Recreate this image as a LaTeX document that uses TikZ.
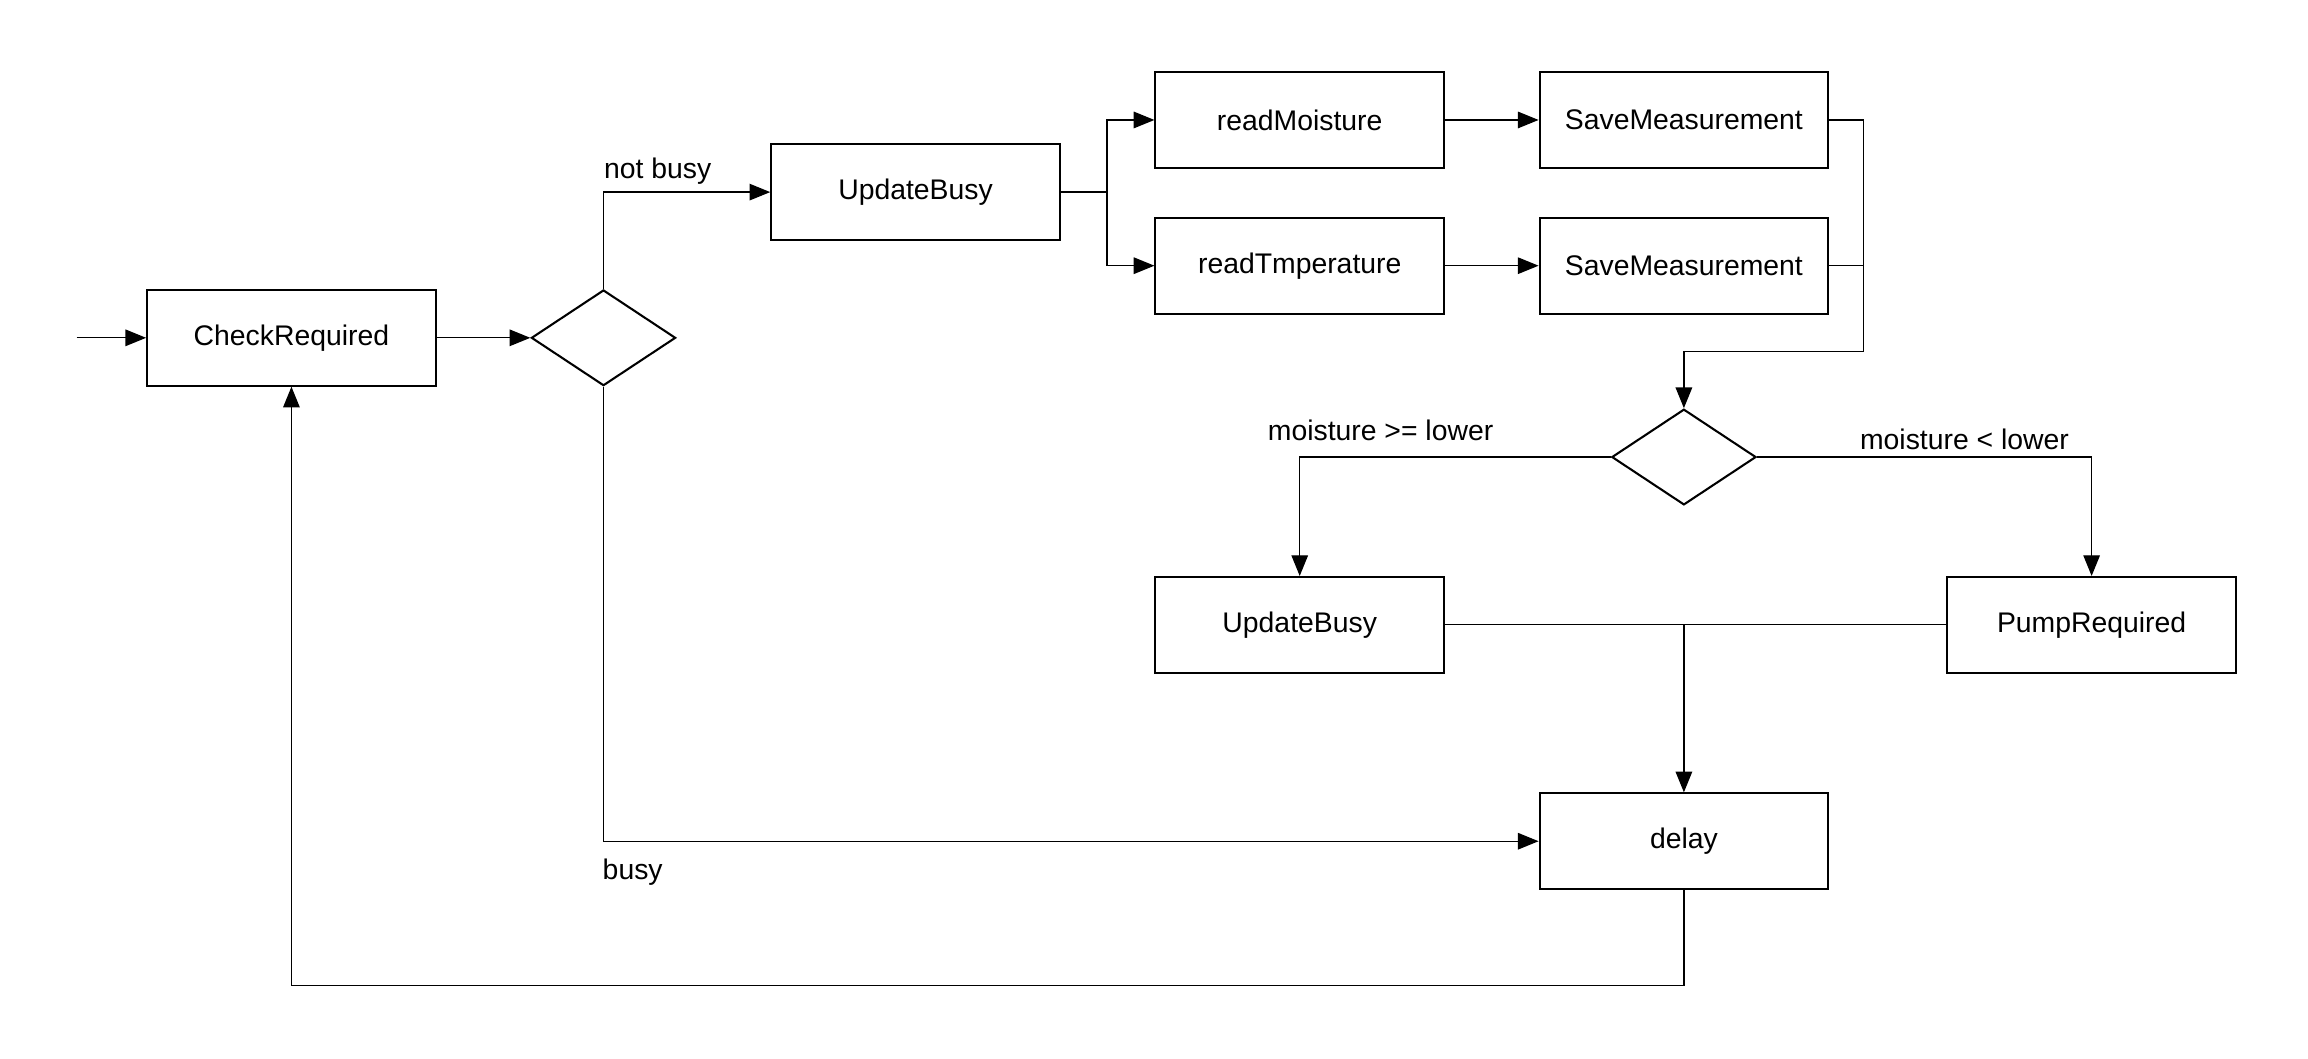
\documentclass[tikz,border=0pt]{standalone}
\usepackage{fontspec}
\setmainfont{Liberation Sans}
\usetikzlibrary{shapes.geometric,arrows.meta,positioning}
\begin{document}
\begin{tikzpicture}[>={Triangle[length=10pt,width=8pt]}, x=0.025cm, y=-0.025cm,
  every node/.style={font=\fontsize{13.7}{16}\selectfont},
  box/.style={draw, line width=1pt, minimum width=4.9cm, minimum height=1.625cm, inner sep=0pt},
  cond/.style={draw, diamond, line width=1pt, minimum width=2.45cm, minimum height=1.625cm, inner sep=0pt},
  conn/.style={line width=0.6pt}]
\useasboundingbox (0,0) rectangle (1568,719);
\node[box] (check) at (198,229.5) {CheckRequired};
\node[cond] (dec1) at (410,229.5) {};
\node[box] (busy1) at (622,130.5) {UpdateBusy};
\node[box] (moist) at (883,81.5) {readMoisture};
\node[box] (temp) at (883,180.5) {readTmperature};
\node[box] (save1) at (1144,81.5) {SaveMeasurement};
\node[box] (save2) at (1144,180.5) {SaveMeasurement};
\node[cond] (dec2) at (1144,310.5) {};
\node[box] (busy2) at (883,424.5) {UpdateBusy};
\node[box] (pump) at (1421,424.5) {PumpRequired};
\node[box] (delay) at (1144,571.5) {delay};
\coordinate (start) at (52,229.5);
\coordinate (split) at (752,130.5);
\coordinate (join) at (1266,239);
\draw[conn, ->] (start) -- (check);
\draw[conn, ->] (check) -- (dec1);
\draw[conn, ->] (dec1.north) |- node[pos=0.5, anchor=south west, inner xsep=0pt] {not busy} (busy1.west);
\draw[conn] (busy1.east) -- (split);
\draw[conn, ->] (split) |- (moist.west);
\draw[conn, ->] (split) |- (temp.west);
\draw[conn, ->] (moist) -- (save1);
\draw[conn, ->] (temp) -- (save2);
\draw[conn] (save1.east) -| (join);
\draw[conn] (save2.east) -- (save2.east -| join);
\draw[conn, ->] (join) -| (dec2.north);
\draw[conn, ->] (dec2.west) -| node[pos=0.37, above=4pt] {moisture >= lower} (busy2.north);
\draw[conn, ->] (dec2.east) -| node[pos=0.31, above] {moisture < lower} (pump.north);
\draw[conn] (busy2.east) -- (pump.west);
\draw[conn, ->] (busy2.east -| delay.north) -- (delay.north);
\draw[conn, ->] (dec1.south) |- node[pos=0.5, below right=5pt and -4pt] {busy} (delay.west);
\draw[conn, ->] (delay.south) -- ++(0,65) -| (check.south);
\end{tikzpicture}
\end{document}
